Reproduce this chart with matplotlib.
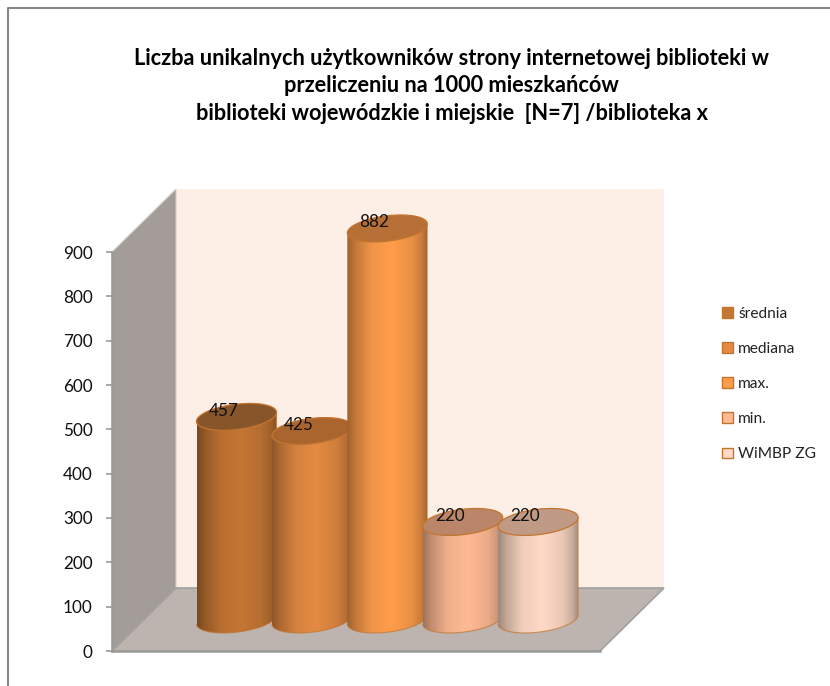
import numpy as np
import matplotlib
matplotlib.use("Agg")
import matplotlib.pyplot as plt
from matplotlib.colors import LinearSegmentedColormap, to_rgb
from matplotlib.lines import Line2D
from matplotlib.patches import Patch, PathPatch, Polygon
from matplotlib.path import Path

plt.rcParams["font.family"] = ["Lato", "DejaVu Sans"]

series = ["średnia", "mediana", "max.", "min.", "WiMBP ZG"]
values = [457, 425, 882, 220, 220]
yticks = [0, 100, 200, 300, 400, 500, 600, 700, 800, 900]
title = ("Liczba unikalnych użytkowników strony internetowej biblioteki w\n"
         "przeliczeniu na 1000 mieszkańców\n"
         "biblioteki wojewódzkie i miejskie  [N=7] /biblioteka x")

body_colors = ["#c47634", "#e48a42", "#ff9d4b", "#ffba94", "#ffdac6"]
top_colors = ["#87552a", "#aa652f", "#b66f35", "#ba8569", "#c09a85"]
edge_color = "#c2752f"

W, H = 830, 686
fig = plt.figure(figsize=(W / 100, H / 100), dpi=100, facecolor="white")

# chart frame, the right and bottom sides are cut off in the picture
fig.add_artist(Line2D([8 / W, 8 / W, 1], [0, 1 - 8 / H, 1 - 8 / H], color="#868686", linewidth=1.5))

# front plane of the 3d box, in pixels
left, right, bottom, top = 112, 600, 651, 252
ax = fig.add_axes([left / W, 1 - bottom / H, (right - left) / W, (bottom - top) / H])
ax.patch.set_visible(False)

step = 75.4          # pixels between cylinders
depth_x, depth_y = 64, 63
px_x = 1 / step
px_y = 900 / (bottom - top)
x0 = -(204.5 - left) / step

# walls and floor, in axes fractions
dx = depth_x / (right - left)
dy = depth_y / (bottom - top)
ax.add_patch(Polygon([(dx, dy), (dx, 1 + dy), (1 + dx, 1 + dy), (1 + dx, dy)],
                     transform=ax.transAxes, facecolor="#fdeee6", edgecolor="none", clip_on=False, zorder=1))
ax.add_patch(Polygon([(0, 0), (0, 1), (dx, 1 + dy), (dx, dy)], transform=ax.transAxes,
                     facecolor="#a39c98", edgecolor="#d5d0cd", linewidth=0.8, clip_on=False, zorder=1))
ax.add_patch(Polygon([(0, 0), (1, 0), (1 + dx, dy), (dx, dy)], transform=ax.transAxes,
                     facecolor="#bdb3af", edgecolor="#a0a0a0", linewidth=1.2, clip_on=False, zorder=2))

for s in ["top", "right"]:
    ax.spines[s].set_visible(False)
for s in ["left", "bottom"]:
    ax.spines[s].set_color("#9a9a9a")
    ax.spines[s].set_linewidth(1.8)
    ax.spines[s].set_zorder(3)
ax.set_xticks([])
ax.set_yticks(yticks)
ax.tick_params(axis="y", length=4, width=1.2, color="#9a9a9a", labelsize=12.3, pad=10, labelcolor="#111111")

# cylinders
half_w, tilt, half_h = 40, 4.5, 12.7
shade_pos = [0, 0.1, 0.3, 0.55, 0.8, 0.93, 1]
shade_val = [0.62, 0.76, 0.94, 1, 0.92, 0.8, 0.66]
t = np.linspace(0, 2 * np.pi, 121)
tb = np.linspace(np.pi, 2 * np.pi, 61)

for i, (v, body, tc) in enumerate(zip(values, body_colors, top_colors)):
    z = 10 + 3 * i
    cx = i + (depth_x / 2) * px_x
    cy0 = (depth_y / 2) * px_y
    cy1 = cy0 + v
    ax_w = half_w * px_x

    # bottom arc, then up the right side, back along the left
    bx = cx + ax_w * np.cos(tb)
    by = cy0 + (half_h * np.sin(tb) + tilt * np.cos(tb)) * px_y
    xs = np.r_[bx, cx + ax_w, cx - ax_w]
    ys = np.r_[by, cy1 + tilt * px_y, cy1 - tilt * px_y]
    mask = PathPatch(Path(np.c_[np.r_[xs, xs[0]], np.r_[ys, ys[0]]]), facecolor="none", edgecolor="none",
                     clip_on=False, zorder=z)
    ax.add_patch(mask)

    rgb = np.array(to_rgb(body))
    cmap = LinearSegmentedColormap.from_list(
        f"c{i}", [(p, tuple(rgb * f)) for p, f in zip(shade_pos, shade_val)])
    im = ax.imshow(np.linspace(0, 1, 200)[None, :], cmap=cmap, aspect="auto", zorder=z,
                   extent=(cx - ax_w, cx + ax_w, cy0 - 20 * px_y, cy1 + 10 * px_y))
    im.set_clip_box(fig.bbox)
    im.set_clip_path(mask)
    ax.add_patch(PathPatch(Path(np.c_[xs, ys]), facecolor="none", edgecolor=edge_color, alpha=0.7,
                           linewidth=0.8, clip_on=False, zorder=z + 1))

    tx = cx + ax_w * np.cos(t)
    ty = cy1 + (half_h * np.sin(t) + tilt * np.cos(t)) * px_y
    ax.add_patch(Polygon(np.c_[tx, ty], facecolor=tc, edgecolor=edge_color, linewidth=0.9,
                         clip_on=False, zorder=z + 2))
    ax.annotate(str(v), (cx, cy1), xytext=(-13, 6), textcoords="offset pixels", ha="center", va="center",
                fontsize=12.3, color="#111111", zorder=40, annotation_clip=False)

ax.set_xlim(x0, x0 + (right - left) / step)
ax.set_ylim(0, 900)

fig.text(451.5 / W, 1 - 86 / H, title, ha="center", va="center", fontsize=15.7, fontweight="bold",
         color="black", linespacing=1.4)

handles = [Patch(facecolor=c, edgecolor=edge_color, linewidth=1.0) for c in body_colors]
fig.legend(handles, series, loc="center left", bbox_to_anchor=(708 / W, 1 - 384 / H), frameon=False,
           fontsize=11.2, handlelength=0.68, handleheight=0.68, handletextpad=0.35, labelspacing=1.36,
           labelcolor="#222222")

fig.savefig("out.png", dpi=100)
